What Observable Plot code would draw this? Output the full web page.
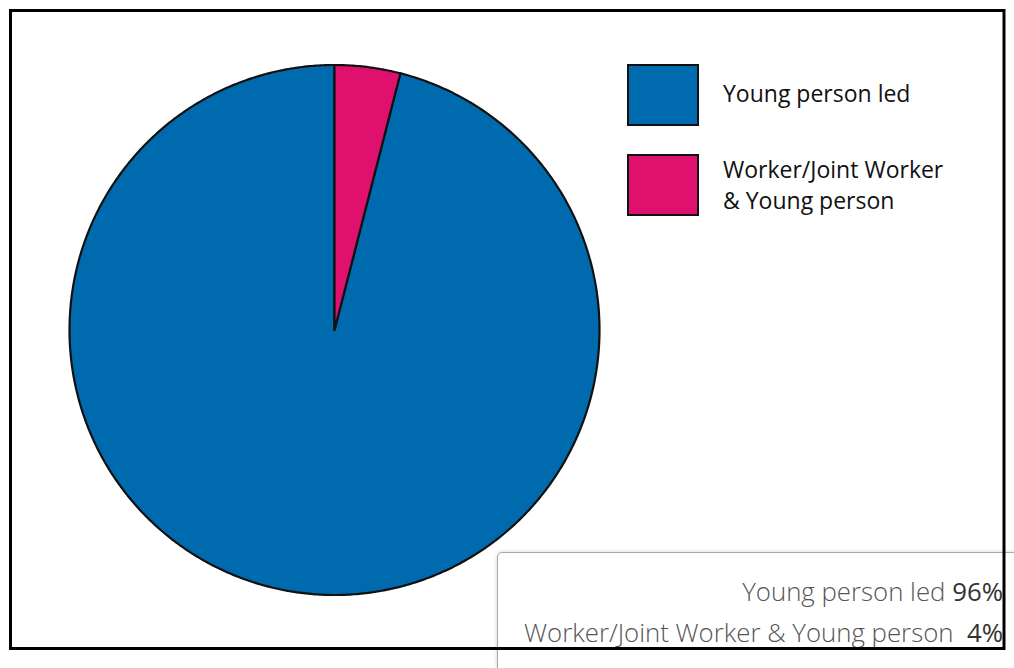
<!DOCTYPE html>
<html>
<head>
<meta charset="utf-8">
<script src="https://cdn.jsdelivr.net/npm/d3@7"></script>
<script src="https://cdn.jsdelivr.net/npm/@observablehq/plot@0.6"></script>
<style>
  html, body { margin: 0; padding: 0; background: #fff; }
  #wrap { position: relative; width: 1014px; height: 668px; overflow: hidden; background: #fff; }
  #tip { position: absolute; left: 497px; top: 552px; width: 640px; height: 200px;
         border: 1px solid #a8a8a8; border-radius: 5px; background: #fff;
         box-shadow: 0 0 4px rgba(0,0,0,0.18); z-index: 0; }
  .tipline { position: absolute; left: 0; width: 1003px; text-align: right; white-space: pre;
             font-family: "Open Sans", sans-serif; font-weight: 300; font-size: 25.8px; color: #555; }
  .tipline b { font-weight: 500; color: #333; }
  #chart { position: absolute; left: 0; top: 0; z-index: 1; }
  .leg { position: absolute; z-index: 2; }
  .sw { position: absolute; box-sizing: border-box; border: 2.5px solid #111; }
  .lt { position: absolute; font-family: "Open Sans", sans-serif; font-size: 23px; color: #111; line-height: 31px; white-space: nowrap; }
</style>
</head>
<body>
<div id="wrap">
  <div id="tip"></div>
  <div id="tiptext"></div>
  <div id="chart"></div>
  <div id="legend"></div>
</div>
<script>
const categories = ["Young person led", "Worker/Joint Worker & Young person"];
const legendLabels = ["Young person led", "Worker/Joint Worker\n& Young person"];
const values = [96, 4];
const colors = ["#006aae", "#e0106e"];
// drawing order around the circle, clockwise from 12 o'clock
const sliceOrder = [1, 0];

const total = d3.sum(values);
let acc = 0;
const slices = sliceOrder.map(i => {
  const a0 = acc / total * 2 * Math.PI;
  acc += values[i];
  const a1 = acc / total * 2 * Math.PI;
  return {key: categories[i], a0, a1};
});
// polygon outline for each slice (geometry of the wedge)
const pts = [];
for (const s of slices.slice().reverse()) {
  pts.push({key: s.key, x: 0, y: 0});
  const n = Math.max(4, Math.ceil((s.a1 - s.a0) / (Math.PI / 360)));
  for (let k = 0; k <= n; k++) {
    const a = s.a0 + (s.a1 - s.a0) * k / n;
    pts.push({key: s.key, x: Math.sin(a), y: Math.cos(a)});
  }
  pts.push({key: s.key, x: 0, y: 0});
}

const chart = Plot.plot({
  width: 1014,
  height: 668,
  marginLeft: 10, marginTop: 10, marginRight: 10.5, marginBottom: 20,
  style: {background: "transparent"},
  x: {domain: [-1, 1], range: [69, 599], axis: null},
  y: {domain: [-1, 1], range: [594.5, 64.5], axis: null},
  color: {domain: categories, range: colors},
  marks: [
    Plot.line(pts, {x: "x", y: "y", z: "key", fill: "key", stroke: "#111", strokeWidth: 2.2, strokeLinejoin: "round"}),
    Plot.frame({stroke: "#000", strokeWidth: 3})
  ]
});
document.getElementById("chart").appendChild(chart);

// legend
const leg = document.getElementById("legend");
const swTops = [64, 154];
const txtTops = [78, 154];
categories.forEach((c, i) => {
  const sw = document.createElement("div");
  sw.className = "sw";
  sw.style.left = "627px"; sw.style.top = swTops[i] + "px";
  sw.style.width = "72px"; sw.style.height = "62px";
  sw.style.background = colors[i];
  leg.appendChild(sw);
  const t = document.createElement("div");
  t.className = "lt";
  t.style.left = "723px"; t.style.top = txtTops[i] + "px";
  t.innerHTML = legendLabels[i].split("\n").join("<br>");
  leg.appendChild(t);
});

// tooltip text
const tt = document.getElementById("tiptext");
const tipTops = [573, 614];
const pad = ["", " "];
categories.forEach((c, i) => {
  const d = document.createElement("div");
  d.className = "tipline";
  d.style.top = tipTops[i] + "px";
  d.innerHTML = c + " " + pad[i] + "<b>" + values[i] + "%</b>";
  tt.appendChild(d);
});
</script>
</body>
</html>
